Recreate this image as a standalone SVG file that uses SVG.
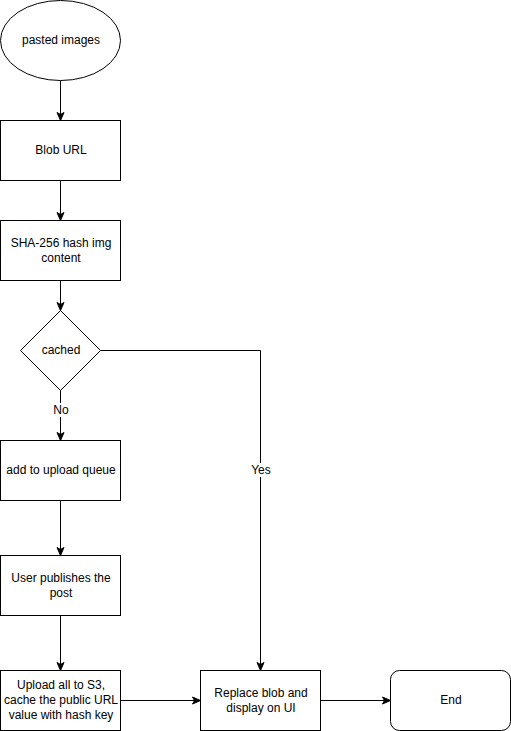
<svg xmlns="http://www.w3.org/2000/svg" width="511" height="731" viewBox="0 0 511 731">
<style>
.n{fill:#fff;stroke:#000;stroke-width:1}
.c{fill:none;stroke:#000;stroke-width:1;marker-end:url(#a)}
text{font-family:"Liberation Sans",Arial,sans-serif;font-size:12px;fill:#000;text-anchor:middle}
.lb{fill:#fff}
</style>
<defs>
<marker id="a" markerUnits="userSpaceOnUse" markerWidth="10" markerHeight="10" refX="9" refY="4.5" orient="auto">
<path d="M1,1 L9,4.5 L1,8 L3,4.5 Z" fill="#000" stroke="#000" stroke-width="1"/>
</marker>
</defs>
<rect width="511" height="731" fill="#fff"/>
<g id="connectors">
<path class="c" d="M60.5,80.5 V120.5"/>
<path class="c" d="M60.5,180.5 V220.5"/>
<path class="c" d="M60.5,280.5 V310.5"/>
<path class="c" d="M60.5,390.5 V440.5"/>
<rect class="lb" x="52" y="403" width="18" height="14"/>
<text x="61" y="414">No</text>
<path class="c" d="M100.5,350.5 H260.5 V670.5"/>
<rect class="lb" x="250" y="463" width="22" height="14"/>
<text x="261" y="474">Yes</text>
<path class="c" d="M60.5,500.5 V555.5"/>
<path class="c" d="M60.5,615.5 V670.5"/>
<path class="c" d="M120.5,700.5 H200.5"/>
<path class="c" d="M320.5,700.5 H390.5"/>
</g>
<g id="pasted-images">
<ellipse class="n" cx="60.5" cy="40.5" rx="60" ry="40"/>
<text x="61" y="44">pasted images</text>
</g>
<g id="blob-url">
<rect class="n" x="0.5" y="120.5" width="120" height="60"/>
<text x="61" y="154">Blob URL</text>
</g>
<g id="sha-hash">
<rect class="n" x="0.5" y="220.5" width="120" height="60"/>
<text x="61" y="247">SHA-256 hash img</text>
<text x="61" y="262">content</text>
</g>
<g id="cached">
<path class="n" d="M60.5,310.5 L100.5,350.5 L60.5,390.5 L20.5,350.5 Z"/>
<text x="61" y="354">cached</text>
</g>
<g id="upload-queue">
<rect class="n" x="0.5" y="440.5" width="120" height="60"/>
<text x="61" y="474">add to upload queue</text>
</g>
<g id="user-publishes">
<rect class="n" x="0.5" y="555.5" width="120" height="60"/>
<text x="61" y="582">User publishes the</text>
<text x="61" y="597">post</text>
</g>
<g id="upload-s3">
<rect class="n" x="0.5" y="670.5" width="120" height="60"/>
<text x="61" y="689">Upload all to S3,</text>
<text x="61" y="704">cache the public URL</text>
<text x="61" y="719">value with hash key</text>
</g>
<g id="replace-blob">
<rect class="n" x="200.5" y="670.5" width="120" height="60"/>
<text x="261" y="697">Replace blob and</text>
<text x="261" y="712">display on UI</text>
</g>
<g id="end">
<rect class="n" x="390.5" y="670.5" width="120" height="60" rx="9" ry="9"/>
<text x="451" y="704">End</text>
</g>
</svg>
